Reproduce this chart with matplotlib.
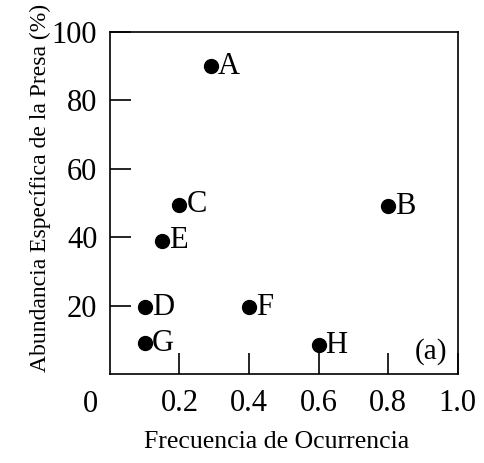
import matplotlib
matplotlib.use('Agg')
import matplotlib.pyplot as plt

# data
names = ['A', 'B', 'C', 'D', 'E', 'F', 'G', 'H']
frecuencia = [0.29, 0.80, 0.20, 0.10, 0.15, 0.40, 0.10, 0.60]
abundancia = [90, 49, 49.5, 19.5, 39, 19.5, 9, 8.5]
xticks = [0.2, 0.4, 0.6, 0.8, 1.0]
xticklabels = ['0.2', '0.4', '0.6', '0.8', '1.0']
yticks = [20, 40, 60, 80, 100]
yticklabels = ['20', '40', '60', '80', '100']

plt.rcParams['font.family'] = ['Liberation Serif', 'DejaVu Serif']

fig = plt.figure(figsize=(4.84, 4.63), dpi=100)
ax = fig.add_axes([0.227, 0.192, 0.719, 0.739])

ax.plot(frecuencia, abundancia, linestyle='none', marker='o', markersize=10, color='black')
for n, x, y in zip(names, frecuencia, abundancia):
    ax.annotate(n, (x, y), xytext=(5, 0), textcoords='offset points',
                ha='left', va='center', fontsize=22)

ax.text(0.97, 0.065, '(a)', transform=ax.transAxes, ha='right', va='center', fontsize=21)

ax.set_xlim(0, 1.0)
ax.set_ylim(0, 100)
ax.set_xticks(xticks)
ax.set_xticklabels(xticklabels)
ax.set_yticks(yticks)
ax.set_yticklabels(yticklabels)
ax.text(-0.057, -0.09, '0', transform=ax.transAxes, ha='center', va='center', fontsize=22)
ax.tick_params(direction='in', length=15, width=1.2, labelsize=22)
ax.tick_params(axis='x', pad=11)
ax.tick_params(axis='y', pad=9)

for s in ax.spines.values():
    s.set_linewidth(1.2)

ax.set_xlabel('Frecuencia de Ocurrencia', fontsize=18.5)
ax.set_ylabel('Abundancia Específica de la Presa (%)', fontsize=17)
ax.xaxis.set_label_coords(0.48, -0.165)
ax.yaxis.set_label_coords(-0.17, 0.545)

fig.savefig('out.png', dpi=100)
